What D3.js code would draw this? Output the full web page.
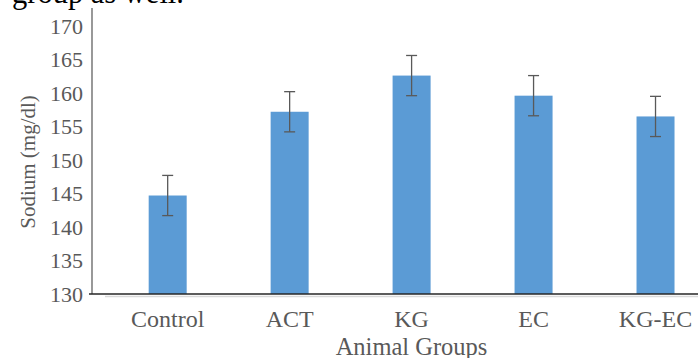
<!DOCTYPE html>
<html>
<head>
<meta charset="utf-8">
<script src="https://cdn.jsdelivr.net/npm/d3@7/dist/d3.min.js"></script>
<style>
  html, body { margin: 0; padding: 0; background: #fff; }
  svg { display: block; }
  text { font-family: "Liberation Serif", "Times New Roman", serif; }
</style>
</head>
<body>
<svg id="chart" width="698" height="358"></svg>
<script>
// Serum sodium by animal group (mean ± error)
const groups = ["Control", "ACT", "KG", "EC", "KG-EC"];
const sodium = [144.7, 157.2, 162.6, 159.6, 156.5];
const errors = [3.0, 3.0, 3.0, 3.0, 3.0];
const yTicks = [130, 135, 140, 145, 150, 155, 160, 165, 170];

const svg = d3.select("#chart");
const textGrey = "#595959";

const y = d3.scaleLinear().domain([130, 170]).range([294, 26]);
const x = d3.scaleBand().domain(groups).range([106.7, 716.5])
  .paddingInner(0.6884).paddingOuter(0.3442);

// Running caption line above the figure
svg.append("text")
  .attr("x", 12).attr("y", 2.5)
  .attr("font-size", 30.5).attr("fill", "#000")
  .text("group as well.");

// Light floor line of the plot area
svg.append("line")
  .attr("x1", 105).attr("x2", 698)
  .attr("y1", y(130) + 2.5).attr("y2", y(130) + 2.5)
  .attr("stroke", "#d9d9d9").attr("stroke-width", 1.5);

// Bars
svg.selectAll("rect.bar").data(groups).join("rect")
  .attr("class", "bar")
  .attr("x", d => x(d))
  .attr("width", x.bandwidth())
  .attr("y", (d, i) => y(sodium[i]))
  .attr("height", (d, i) => y(130) - y(sodium[i]))
  .attr("fill", "#5b9bd5");

// Error bars
const eb = svg.append("g").attr("stroke", "#595959").attr("stroke-width", 1.3);
groups.forEach((g, i) => {
  const cx = x(g) + x.bandwidth() / 2;
  const hi = y(sodium[i] + errors[i]);
  const lo = y(sodium[i] - errors[i]);
  eb.append("line").attr("x1", cx).attr("x2", cx).attr("y1", hi).attr("y2", lo);
  eb.append("line").attr("x1", cx - 5.5).attr("x2", cx + 5.5).attr("y1", hi).attr("y2", hi);
  eb.append("line").attr("x1", cx - 5.5).attr("x2", cx + 5.5).attr("y1", lo).attr("y2", lo);
});

// Y axis
const yAxis = svg.append("g").attr("transform", "translate(92,0)")
  .call(d3.axisLeft(y).tickValues(yTicks).tickSize(0).tickPadding(9).tickFormat(d3.format("d")));
yAxis.select(".domain").remove();
yAxis.selectAll("text")
  .attr("font-size", 22).attr("fill", textGrey)
  .attr("font-family", "Liberation Serif, serif")
  .attr("dy", "0.33em");
svg.append("line")
  .attr("x1", 92).attr("x2", 92)
  .attr("y1", y(172.7)).attr("y2", y(130))
  .attr("stroke", "#7f7f7f").attr("stroke-width", 1.6);

// Baseline
svg.append("line")
  .attr("x1", 89).attr("x2", 698)
  .attr("y1", y(130)).attr("y2", y(130))
  .attr("stroke", "#262626").attr("stroke-width", 1.4);

// Category labels
const xAxis = svg.append("g").attr("transform", `translate(0,${y(130)})`)
  .call(d3.axisBottom(x).tickSize(0).tickPadding(0));
xAxis.select(".domain").remove();
xAxis.selectAll("text")
  .attr("font-size", 24).attr("fill", textGrey)
  .attr("font-family", "Liberation Serif, serif")
  .attr("dy", null).attr("y", 33);

// Axis titles
svg.append("text")
  .attr("x", 411.5).attr("y", 354.5)
  .attr("text-anchor", "middle")
  .attr("font-size", 24.5).attr("fill", textGrey)
  .text("Animal Groups");

svg.append("text")
  .attr("transform", "translate(34.5,162) rotate(-90)")
  .attr("text-anchor", "middle")
  .attr("font-size", 21).attr("fill", textGrey)
  .text("Sodium (mg/dl)");
</script>
</body>
</html>
